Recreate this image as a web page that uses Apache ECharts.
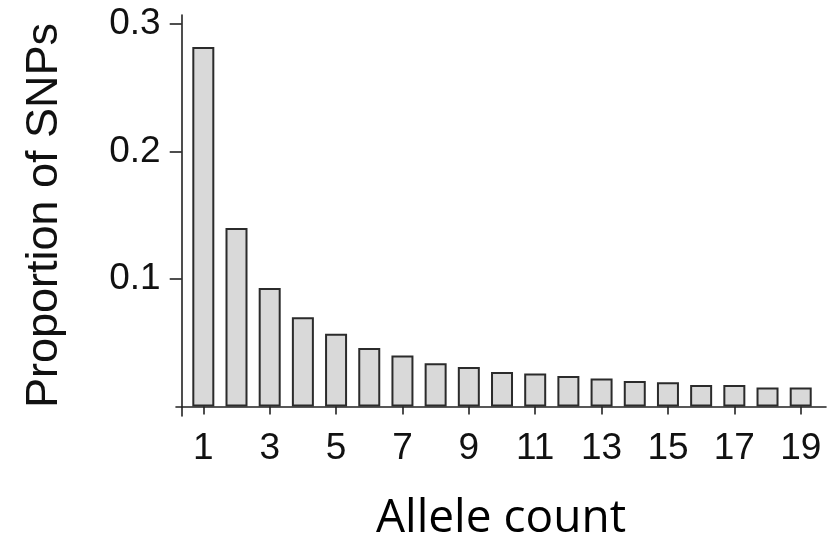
<!DOCTYPE html>
<html>
<head>
<meta charset="utf-8">
<script src="https://cdn.jsdelivr.net/npm/echarts@6/dist/echarts.min.js"></script>
<style>
html,body{margin:0;padding:0;background:#fff;}
#chart{width:838px;height:537px;}
</style>
</head>
<body>
<div id="chart"></div>
<script>
// Data
var alleleCounts = [1,2,3,4,5,6,7,8,9,10,11,12,13,14,15,16,17,18,19];
var proportions = [0.282,0.140,0.093,0.070,0.057,0.046,0.040,0.034,0.031,0.027,0.026,0.024,0.022,0.020,0.019,0.017,0.017,0.015,0.015];
var xTickLabels = [1,3,5,7,9,11,13,15,17,19];
var yTickLabels = [0.1,0.2,0.3];
var xTitle = 'Allele count';
var yTitle = 'Proportion of SNPs';

var barData = alleleCounts.map(function(c, i){ return [c, proportions[i]]; });

var axisColor = '#222';
var textColor = '#111';
var tickFont = 'Liberation Sans, Arial, Helvetica, sans-serif';

var chart = echarts.init(document.getElementById('chart'), null, {renderer:'canvas'});
chart.setOption({
  animation: false,
  backgroundColor: '#fff',
  grid: [
    {left: 176, right: 12, top: 15, bottom: 121, containLabel: false, outerBoundsMode: 'none'},
    {left: 181.7, right: 12, top: 15, bottom: 121, containLabel: false, outerBoundsMode: 'none'}
  ],
  xAxis: [
    {
      gridIndex: 0, type: 'value', min: 0.177, max: 19.762,
      name: xTitle, nameLocation: 'middle', nameGap: 80,
      nameTextStyle: {fontFamily: 'Open Sans', fontSize: 46, color: '#000'},
      axisLine: {show: true, onZero: true, lineStyle: {color: axisColor, width: 1.6}},
      axisTick: {show: true, length: 8, customValues: xTickLabels, lineStyle: {color: axisColor, width: 1.6}},
      axisLabel: {show: true, customValues: xTickLabels, margin: 14, fontFamily: tickFont, fontSize: 37, color: textColor},
      splitLine: {show: false}
    },
    {
      gridIndex: 1, type: 'value', min: 0, max: 1, show: false
    }
  ],
  yAxis: [
    {
      gridIndex: 0, type: 'value', min: -0.0074, max: 0.307, show: false,
      splitLine: {show: false}
    },
    {
      gridIndex: 1, type: 'value', min: -0.0074, max: 0.307,
      name: yTitle, nameLocation: 'middle', nameGap: 115,
      nameTextStyle: {fontFamily: tickFont, fontSize: 45, color: textColor},
      axisLine: {show: true, onZero: false, lineStyle: {color: axisColor, width: 1.6}},
      axisTick: {show: true, length: 12, customValues: yTickLabels, lineStyle: {color: axisColor, width: 1.6}},
      axisLabel: {show: true, customValues: yTickLabels, margin: 21, fontFamily: tickFont, fontSize: 37, color: textColor},
      splitLine: {show: false}
    }
  ],
  series: [
    {
      type: 'bar', xAxisIndex: 0, yAxisIndex: 0,
      data: barData, barWidth: 22,
      itemStyle: {color: '#d9d9d9', borderColor: '#2b2b2b', borderWidth: 2}
    }
  ]
});
</script>
</body>
</html>
